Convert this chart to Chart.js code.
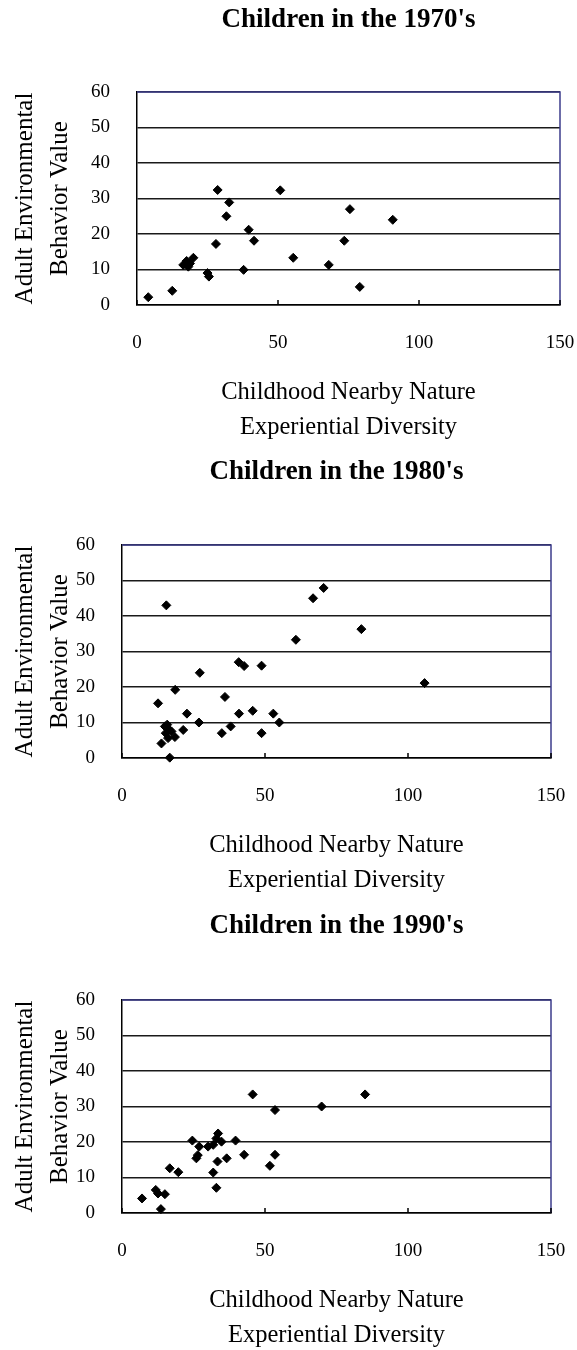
<!DOCTYPE html>
<html>
<head>
<meta charset="utf-8">
<script src="https://cdn.jsdelivr.net/npm/chart.js@4"></script>
<style>
body { margin: 0; background: #fff; overflow: hidden; }
.panel { position: absolute; left: 0; width: 577px; }
canvas { display: block; }
</style>
</head>
<body>
<div class="panel" style="top:0px"><canvas id="c1970" width="577" height="442"></canvas></div>
<div class="panel" style="top:442px"><canvas id="c1980" width="577" height="453"></canvas></div>
<div class="panel" style="top:895px"><canvas id="c1990" width="577" height="455"></canvas></div>
<script>
var titles = ["Children in the 1970's", "Children in the 1980's", "Children in the 1990's"];
var xTitle = ['Childhood Nearby Nature', 'Experiential Diversity'];
var yTitle = ['Adult Environmental', 'Behavior Value'];
var xTicks = [0, 50, 100, 150];
var yTicks = [0, 10, 20, 30, 40, 50, 60];

// 1970's
var x1970 = [4, 12.5, 16.4, 17.6, 18.8, 18.2, 20, 25, 25.5, 28, 28.6, 31.7, 32.7, 37.8, 39.6, 41.5, 50.8, 55.4, 68, 73.5, 75.5, 79, 90.7];
var y1970 = [2.2, 4, 11.3, 12.4, 11.7, 10.8, 13.3, 9, 8, 17.2, 32.4, 25, 28.9, 9.9, 21.2, 18.1, 32.3, 13.3, 11.3, 18.1, 27, 5.1, 24];

// 1980's
var x1980 = [15.5, 12.6, 18.6, 27.2, 22.7, 26.9, 21.4, 15, 15.8, 16.5, 15.3, 17.3, 18.5, 16.1, 13.8, 16.7, 36, 34.9, 38, 40.9, 45.7, 48.8, 52.9, 55, 40.8, 42.7, 48.8, 60.8, 66.8, 70.5, 83.7, 105.8];
var y1980 = [43, 15.4, 19.2, 24, 12.5, 10, 7.9, 8.9, 9.4, 8, 7, 7.5, 5.9, 5.6, 4.1, 0.1, 17.2, 7, 8.9, 12.5, 13.3, 7, 12.5, 10, 27, 25.9, 26, 33.3, 45, 47.9, 36.3, 21.1];

// 1990's
var x1990 = [7, 11.8, 12.6, 15, 13.6, 16.7, 19.7, 24.6, 27, 26, 26.5, 30.1, 31.9, 33.6, 34.8, 33, 39.7, 36.6, 33.4, 31.9, 33, 42.7, 51.7, 53.5, 45.7, 53.5, 69.8, 85];
var y1990 = [4.1, 6.5, 5.5, 5.3, 1.1, 12.6, 11.5, 20.4, 18.7, 15.4, 16.3, 18.7, 19.2, 22.4, 20.1, 21, 20.4, 15.4, 14.5, 11.4, 7.1, 16.4, 13.3, 16.4, 33.4, 29, 30, 33.4];

Chart.defaults.font.family = "'Liberation Serif', 'Times New Roman', serif";
Chart.defaults.color = '#000';

// top and right edges of the plot box, plus the small inward ticks on the x axis
var framePlugin = {
  id: 'frame',
  afterDraw: function(chart) {
    var ctx = chart.ctx;
    var a = chart.chartArea;
    var xs = chart.scales.x;
    ctx.save();
    ctx.lineWidth = 1.5;
    ctx.strokeStyle = '#3c3c8c';
    ctx.beginPath();
    ctx.moveTo(a.left, a.top);
    ctx.lineTo(a.right, a.top);
    ctx.lineTo(a.right, a.bottom);
    ctx.stroke();
    ctx.strokeStyle = '#000';
    ctx.beginPath();
    xs.ticks.forEach(function(t) {
      var px = xs.getPixelForValue(t.value);
      ctx.moveTo(px, a.bottom);
      ctx.lineTo(px, a.bottom - 5);
    });
    ctx.stroke();
    ctx.restore();
  }
};

function makeChart(id, n, xs, ys, box) {
  var points = xs.map(function(v, i) { return {x: v, y: ys[i]}; });
  return new Chart(document.getElementById(id), {
    type: 'scatter',
    data: {
      datasets: [{
        data: points,
        pointStyle: 'rectRot',
        pointRadius: 4.5,
        backgroundColor: '#000',
        borderColor: '#000',
        borderWidth: 1,
        clip: false
      }]
    },
    options: {
      responsive: false,
      animation: false,
      events: [],
      layout: { padding: { left: 0, top: 0, bottom: 0, right: box.right } },
      plugins: {
        legend: { display: false },
        tooltip: { enabled: false },
        title: {
          display: true,
          text: titles[n],
          fullSize: false,
          color: '#000',
          font: { size: 27, weight: 'bold', lineHeight: 1.2 },
          padding: { top: box.titleTop, bottom: box.titleBottom }
        }
      },
      scales: {
        x: {
          type: 'linear',
          min: 0,
          max: 150,
          afterBuildTicks: function(s) { s.ticks = xTicks.map(function(v) { return {value: v}; }); },
          afterFit: function(s) {
            s.height = 137;
            s.paddingLeft = 0;
            s.paddingRight = 0;
          },
          ticks: { padding: 26.6, font: { size: 19 }, maxRotation: 0, autoSkip: false },
          grid: { display: false, drawTicks: false },
          border: { display: true, color: '#000', width: 1.5 },
          title: {
            display: true,
            text: xTitle,
            font: { size: 24.5, lineHeight: 35 / 24.5 },
            padding: { top: 0, bottom: -3.5 }
          }
        },
        y: {
          type: 'linear',
          min: 0,
          max: 60,
          afterBuildTicks: function(s) { s.ticks = yTicks.map(function(v) { return {value: v}; }); },
          afterFit: function(s) {
            s.width = box.left;
            s.paddingTop = 0;
            s.paddingBottom = 0;
          },
          ticks: { padding: 27, font: { size: 19 } },
          grid: { color: '#1a1a1a', lineWidth: 1.6, drawTicks: false },
          border: { display: true, color: '#000', width: 1.5 },
          title: {
            display: true,
            text: yTitle,
            font: { size: 25, lineHeight: 1.4 },
            padding: { top: 7.5, bottom: 0 }
          }
        }
      }
    },
    plugins: [framePlugin]
  });
}

makeChart('c1970', 0, x1970, y1970, { left: 137, right: 17, titleTop: 4.3, titleBottom: 55.3 });
makeChart('c1980', 1, x1980, y1980, { left: 122, right: 26, titleTop: 14.3, titleBottom: 56.3 });
makeChart('c1990', 2, x1990, y1990, { left: 122, right: 26, titleTop: 14.8, titleBottom: 57.8 });
</script>
</body>
</html>
